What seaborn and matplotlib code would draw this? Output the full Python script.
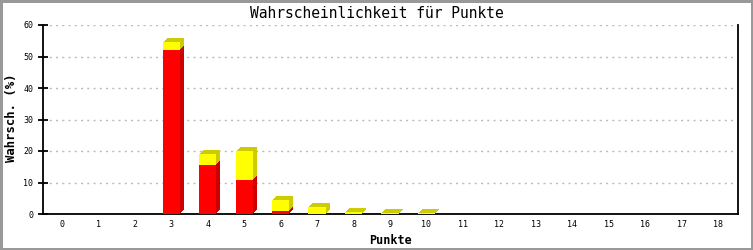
import matplotlib
matplotlib.use("Agg")
import matplotlib.pyplot as plt
from matplotlib.transforms import ScaledTranslation
import seaborn as sns
import pandas as pd

# ---- data ----
punkte = list(range(19))
rot  = [0, 0, 0, 52.1, 15.6, 10.8, 1.0, 0, 0, 0, 0, 0, 0, 0, 0, 0, 0, 0, 0]
gelb = [0, 0, 0, 2.4, 3.4, 9.3, 3.4, 2.1, 0.6, 0.25, 0.25, 0, 0, 0, 0, 0, 0, 0, 0]
y_ticks = [0, 10, 20, 30, 40, 50, 60]

titel = "Wahrscheinlichkeit für Punkte"
x_titel = "Punkte"
y_titel = "Wahrsch. (%)"

RED, DRED = "#FF0000", "#CC0000"
YEL, DYEL = "#FFFF00", "#CCCC00"

df = pd.DataFrame({"punkte": punkte, "rot": rot, "gelb": gelb})
df["gesamt"] = df["rot"] + df["gelb"]

sns.set_style("white")
plt.rcParams["font.family"] = ["DejaVu Sans Mono", "DejaVu Sans"]
plt.rcParams["text.color"] = "black"
plt.rcParams["axes.labelcolor"] = "black"

fig = plt.figure(figsize=(7.53, 2.5), dpi=100, facecolor="white",
                 edgecolor="#999999", linewidth=2.5)
ax = fig.add_axes([43/753, 1-214/250, (738-43)/753, (214-25)/250])

W = 0.47

def bars(col, color, off_px=0, z=2):
    n0 = len(ax.patches)
    sns.barplot(data=df, x="punkte", y=col, color=color, saturation=1,
                width=W, ax=ax, linewidth=0, zorder=z)
    if off_px:
        tr = ax.transData + ScaledTranslation(off_px/100, off_px/100, fig.dpi_scale_trans)
        for p in ax.patches[n0:]:
            p.set_transform(tr)

# 3D extrusion (darker faces), drawn back to front
for k in [4, 3, 2, 1]:
    bars("gesamt", DYEL, k, z=2)
    bars("rot", DRED, k, z=2)
# front faces
bars("gesamt", YEL, 0, z=3)
bars("rot", RED, 0, z=3)

ax.set_xlim(-0.52, 18.55)
ax.set_ylim(0, 60)
ax.set_yticks(y_ticks)
ax.set_yticklabels([str(v) for v in y_ticks])

ax.set_axisbelow(True)
ax.yaxis.grid(True, color="#BBBBBB", linestyle=(0, (1.5, 3)), linewidth=1.0)
ax.xaxis.grid(False)

for s in ["left", "bottom", "right"]:
    ax.spines[s].set_visible(True)
    ax.spines[s].set_color("black")
    ax.spines[s].set_linewidth(1.3)
ax.spines["top"].set_visible(False)

ax.tick_params(axis="y", direction="inout", length=7, width=1.3, pad=3.5,
               labelsize=6, colors="black", left=True)
ax.tick_params(axis="x", length=0, pad=4.5, labelsize=6, colors="black")

ax.set_xlabel(x_titel, fontsize=8.5, fontweight="bold")
ax.xaxis.set_label_coords(0.5, (214-240)/189)
ax.xaxis.label.set_va("center")
ax.set_ylabel(y_titel, fontsize=8.8, fontweight="bold")
ax.yaxis.set_label_coords((11-43)/695, (214-117.5)/189)
ax.yaxis.label.set_va("center")

fig.suptitle(titel, x=0.5, y=1-14/250, va="center", fontsize=10.5,
             fontweight="normal", color="black")

fig.savefig("out.png", dpi=100, facecolor="white", edgecolor="#999999")
